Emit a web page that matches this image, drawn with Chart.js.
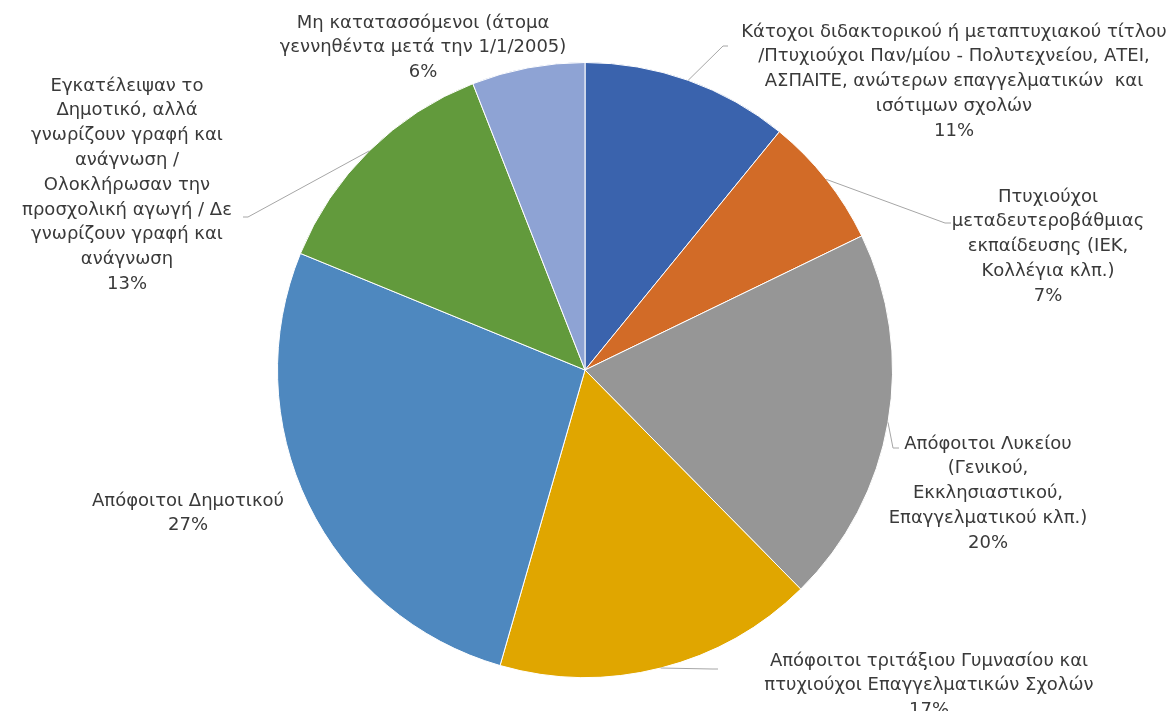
<!DOCTYPE html>
<html>
<head>
<meta charset="utf-8">
<script src="https://cdn.jsdelivr.net/npm/chart.js@4/dist/chart.umd.min.js"></script>
<style>
  html, body { margin: 0; padding: 0; background: #fff; }
  #wrap { width: 1172px; height: 711px; position: relative; }
</style>
</head>
<body>
<div id="wrap"><canvas id="pieChart"></canvas></div>
<script>
// education level categories, one label line per entry
const categories = [
  ['Κάτοχοι διδακτορικού ή μεταπτυχιακού τίτλου', '/Πτυχιούχοι Παν/μίου - Πολυτεχνείου, ΑΤΕΙ,', 'ΑΣΠΑΙΤΕ, ανώτερων επαγγελματικών  και', 'ισότιμων σχολών'],
  ['Πτυχιούχοι', 'μεταδευτεροβάθμιας', 'εκπαίδευσης (ΙΕΚ,', 'Κολλέγια κλπ.)'],
  ['Απόφοιτοι Λυκείου', '(Γενικού,', 'Εκκλησιαστικού,', 'Επαγγελματικού κλπ.)'],
  ['Απόφοιτοι τριτάξιου Γυμνασίου και', 'πτυχιούχοι Επαγγελματικών Σχολών'],
  ['Απόφοιτοι Δημοτικού'],
  ['Εγκατέλειψαν το', 'Δημοτικό, αλλά', 'γνωρίζουν γραφή και', 'ανάγνωση /', 'Ολοκλήρωσαν την', 'προσχολική αγωγή / Δε', 'γνωρίζουν γραφή και', 'ανάγνωση'],
  ['Μη κατατασσόμενοι (άτομα', 'γεννηθέντα μετά την 1/1/2005)']
];
const shares = [11, 7, 20, 17, 27, 13, 6];
const colors = ['#3a63ad', '#d26b27', '#969696', '#e0a600', '#4e88bf', '#629a3c', '#8ea3d4'];

// where each label block sits: centre x, first line y, leader elbow points
const labelLayout = [
  { x: 954, y: 32, leader: [[723, 46], [728, 46]] },
  { x: 1048, y: 197, leader: [[945, 223], [951, 223]] },
  { x: 988, y: 444, leader: [[893, 448], [899, 448]] },
  { x: 929, y: 661, leader: [[712, 669], [718, 669]] },
  { x: 188, y: 501, leader: null },
  { x: 127, y: 86, leader: [[248, 217], [243, 217]] },
  { x: 423, y: 23, leader: null }
];

const lineGap = 24.8;

const pieLabels = {
  id: 'pieLabels',
  afterDatasetsDraw(chart) {
    const ctx = chart.ctx;
    const arcs = chart.getDatasetMeta(0).data;
    ctx.save();
    arcs.forEach((arc, i) => {
      const lay = labelLayout[i];
      if (lay.leader) {
        const mid = (arc.startAngle + arc.endAngle) / 2;
        const sx = arc.x + Math.cos(mid) * arc.outerRadius;
        const sy = arc.y + Math.sin(mid) * arc.outerRadius;
        ctx.strokeStyle = '#a6a6a6';
        ctx.lineWidth = 1;
        ctx.beginPath();
        ctx.moveTo(sx, sy);
        lay.leader.forEach((p) => ctx.lineTo(p[0], p[1]));
        ctx.stroke();
      }
      const lines = categories[i].concat([shares[i] + '%']);
      ctx.fillStyle = '#3a3a3a';
      ctx.font = '18px "DejaVu Sans"';
      ctx.textAlign = 'center';
      ctx.textBaseline = 'middle';
      lines.forEach((t, k) => ctx.fillText(t, lay.x, lay.y + k * lineGap));
    });
    ctx.restore();
  }
};

new Chart(document.getElementById('pieChart'), {
  type: 'pie',
  data: {
    labels: categories.map((c) => c.join(' ')),
    datasets: [{
      data: shares,
      backgroundColor: colors,
      borderColor: '#ffffff',
      borderWidth: 1
    }]
  },
  options: {
    responsive: true,
    maintainAspectRatio: false,
    animation: false,
    layout: { padding: { top: 62, bottom: 33, left: 0, right: 2 } },
    plugins: {
      legend: { display: false },
      tooltip: { enabled: false }
    }
  },
  plugins: [pieLabels]
});
</script>
</body>
</html>
